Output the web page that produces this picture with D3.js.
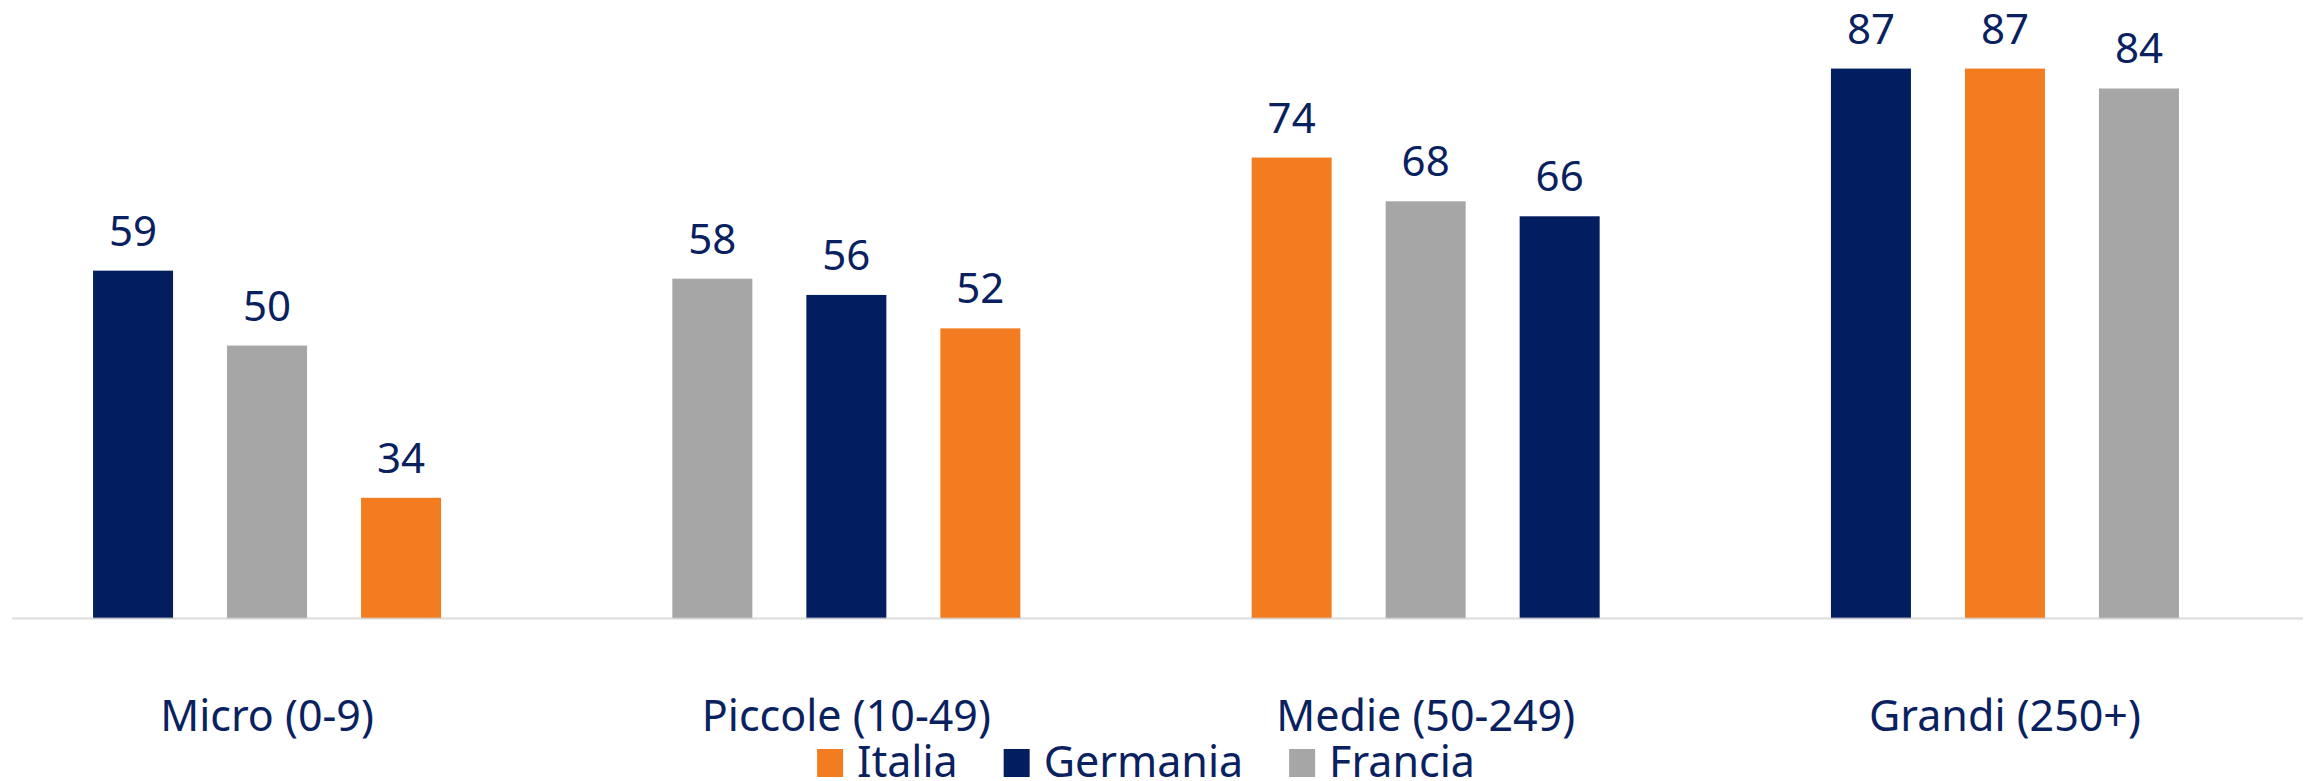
<!DOCTYPE html>
<html>
<head>
<meta charset="utf-8">
<script src="https://cdn.jsdelivr.net/npm/d3@7"></script>
<style>
  html, body { margin: 0; padding: 0; background: #ffffff; }
  svg { display: block; }
  text { font-family: "Noto Sans", "Open Sans", sans-serif; fill: #0a2160; }
</style>
</head>
<body>
<svg id="chart" width="2310" height="781"></svg>
<script>
// Company size classes
const categories = ["Micro (0-9)", "Piccole (10-49)", "Medie (50-249)", "Grandi (250+)"];

// Share per country, one value per size class
const italia   = [34, 52, 74, 87];
const germania = [59, 56, 66, 87];
const francia  = [50, 58, 68, 84];

// Legend order and colours
const countries = ["Italia", "Germania", "Francia"];
const colors = ["#f37c20", "#021e5e", "#a6a6a6"];
// Tie-break when two countries share the same rounded value
const tieOrder = ["Germania", "Italia", "Francia"];

const seriesValues = { Italia: italia, Germania: germania, Francia: francia };
const colorOf = d3.scaleOrdinal().domain(countries).range(colors);

const svg = d3.select("#chart");
const baseY = 618.5;

// Outer band: one slot per size class
const x0 = d3.scaleBand().domain(categories).range([-22.6, 2294.6]);
// Inner band: three bars per class, sorted from highest to lowest
const x1 = d3.scaleBand().domain([0, 1, 2])
  .range([-201, 201]).paddingInner(0.403).paddingOuter(0.2015);

const y = d3.scaleSqrt().domain([23.5, 100]).range([baseY, -14]);

// Build per-category rows, ordered by value
const rows = categories.map((cat, ci) => {
  const items = countries.map(c => ({ country: c, value: seriesValues[c][ci] }));
  items.sort((a, b) => d3.descending(a.value, b.value) ||
    d3.ascending(tieOrder.indexOf(a.country), tieOrder.indexOf(b.country)));
  items.forEach((d, i) => { d.rank = i; d.cat = cat; });
  return { cat, items };
});

const groups = svg.append("g").selectAll("g")
  .data(rows).join("g")
  .attr("transform", d => `translate(${x0(d.cat) + x0.bandwidth() / 2},0)`);

groups.selectAll("rect")
  .data(d => d.items).join("rect")
  .attr("x", d => x1(d.rank))
  .attr("width", x1.bandwidth())
  .attr("y", d => y(d.value))
  .attr("height", d => baseY - y(d.value))
  .attr("fill", d => colorOf(d.country));

groups.selectAll("text.value")
  .data(d => d.items).join("text")
  .attr("class", "value")
  .attr("x", d => x1(d.rank) + x1.bandwidth() / 2)
  .attr("y", d => y(d.value) - 25)
  .attr("text-anchor", "middle")
  .style("font-size", "42px")
  .text(d => d.value);

// Category axis line
svg.append("line")
  .attr("x1", 12).attr("x2", 2303)
  .attr("y1", baseY).attr("y2", baseY)
  .attr("stroke", "#d0d0d0").attr("stroke-opacity", 0.75)
  .attr("stroke-width", 2);

// Category labels
svg.append("g").selectAll("text")
  .data(categories).join("text")
  .attr("x", d => x0(d) + x0.bandwidth() / 2)
  .attr("y", 731)
  .attr("text-anchor", "middle")
  .style("font-size", "43px")
  .text(d => d);

// Legend, centred under the chart
const legend = svg.append("g");
const items = legend.selectAll("g").data(countries).join("g");
items.append("rect")
  .attr("width", 26).attr("height", 28)
  .attr("y", 749)
  .attr("fill", d => colorOf(d));
items.append("text")
  .attr("x", 40).attr("y", 777)
  .style("font-size", "43px")
  .text(d => d);

let cursor = 0;
const offsets = [];
items.each(function () {
  offsets.push(cursor);
  const tw = d3.select(this).select("text").node().getComputedTextLength();
  cursor += 40 + tw + 46;
});
const total = cursor - 46;
const start = 1146 - total / 2;
items.attr("transform", (d, i) => `translate(${start + offsets[i]},0)`);
</script>
</body>
</html>
